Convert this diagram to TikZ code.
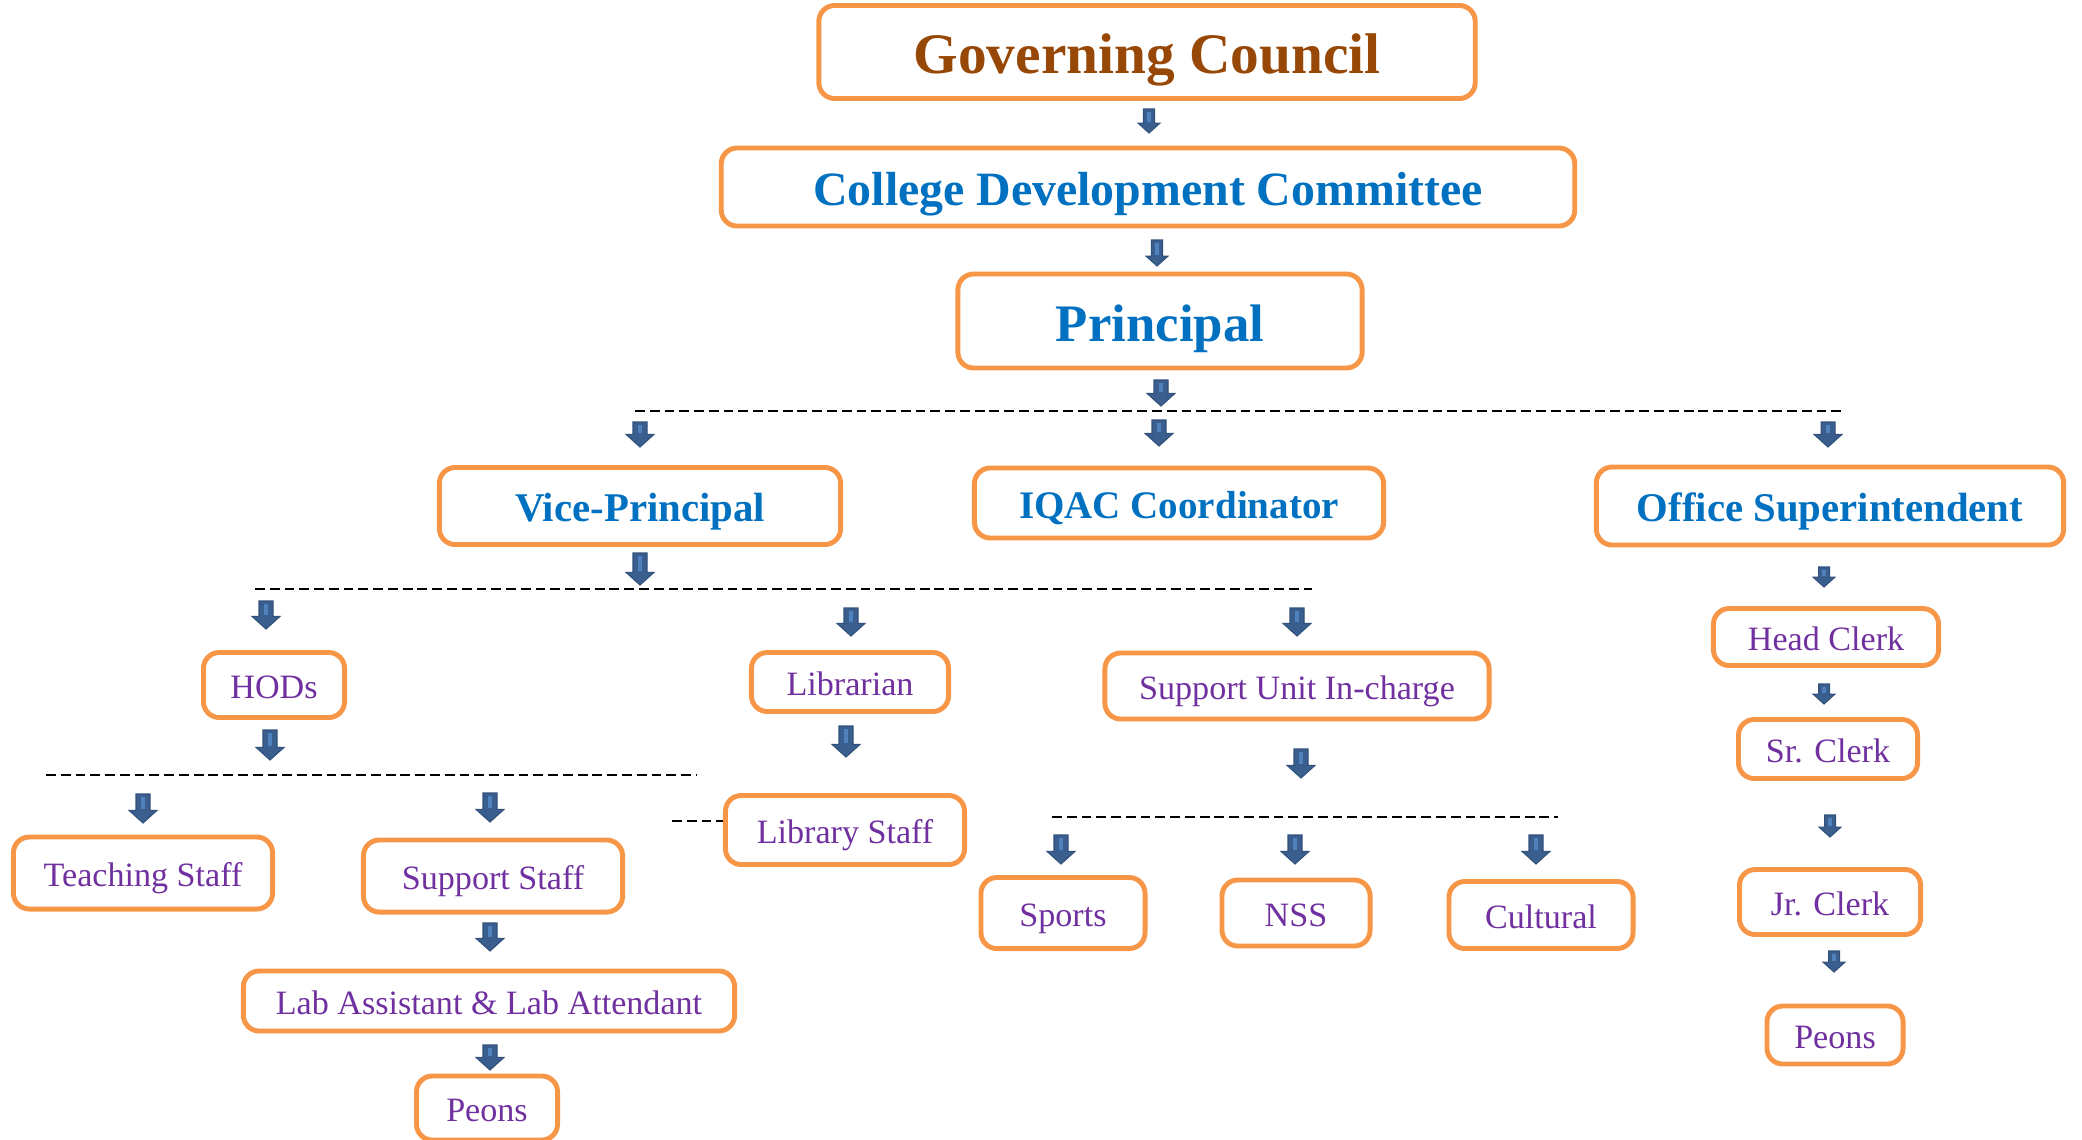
\documentclass[tikz,border=0pt]{standalone}
\usepackage{fontspec}
\setmainfont{Liberation Serif}

\definecolor{boxorange}{HTML}{F79646}
\definecolor{arrowblue}{HTML}{3A5F8F}
\definecolor{stripeblue}{HTML}{4F81BD}
\definecolor{councilbrown}{HTML}{984806}
\definecolor{headblue}{HTML}{0070C0}
\definecolor{staffpurple}{HTML}{7030A0}

\tikzset{
  box/.style={draw=boxorange, line width=1.4pt, rounded corners=4.5pt, fill=white, inner sep=0pt,
    text height=7.8pt, text depth=0pt},
  headbox/.style={box, text=headblue, font=\bfseries\fontsize{11.6}{14}\selectfont, text height=9pt},
  staffbox/.style={box, text=staffpurple, font=\fontsize{9.7}{12}\selectfont},
  dashline/.style={line width=0.75pt, dash pattern=on 2.8pt off 1.4pt},
  arrowfill/.style={fill=arrowblue, draw=arrowblue!85!black, line width=0.3pt},
  arrowstripe/.style={stripeblue, line width=1.1pt}
}

% block arrow: [head half width]{x}{top}{bottom}
\newcommand{\blkarrow}[4][14]{%
  \pgfmathsetmacro\ahw{#1}\pgfmathsetmacro\asw{#1/2}\pgfmathsetmacro\ahh{#1*0.9}
  \filldraw[arrowfill] (#2-\asw,#3) -- (#2+\asw,#3) -- (#2+\asw,#4-\ahh) -- (#2+\ahw,#4-\ahh)
    -- (#2,#4) -- (#2-\ahw,#4-\ahh) -- (#2-\asw,#4-\ahh) -- cycle;
  \draw[arrowstripe] (#2,#3+3) -- (#2,#4-\ahh-1);
}

\begin{document}
\begin{tikzpicture}[x=0.01cm,y=-0.01cm]
\useasboundingbox (0,0) rectangle (2082,1139);

\node[box, text=councilbrown, font=\bfseries\fontsize{16.3}{19}\selectfont, text height=12.3pt,
  minimum width=6.56cm, minimum height=0.93cm] (gc) at (1147,52) {Governing Council};
\node[headbox, font=\bfseries\fontsize{13.6}{16}\selectfont, text height=10.6pt,
  minimum width=8.53cm, minimum height=0.78cm] (cdc) at (1148,187) {College Development Committee};
\node[headbox, font=\bfseries\fontsize{15}{18}\selectfont, text height=11.7pt,
  minimum width=4.04cm, minimum height=0.94cm] (prin) at (1160,321) {Principal};

\node[headbox, minimum width=4.01cm, minimum height=0.77cm] (vp) at (640,506) {Vice-Principal};
\node[headbox, font=\bfseries\fontsize{11.1}{14}\selectfont, text height=8.7pt,
  minimum width=4.09cm, minimum height=0.70cm] (iqac) at (1179,503) {IQAC Coordinator};
\node[headbox, minimum width=4.67cm, minimum height=0.78cm] (os) at (1830,506) {Office Superintendent};

\node[staffbox, minimum width=1.41cm, minimum height=0.65cm] (hod) at (274,685) {HODs};
\node[staffbox, minimum width=1.97cm, minimum height=0.59cm] (lib) at (850,682) {Librarian};
\node[staffbox, minimum width=3.84cm, minimum height=0.66cm] (sui) at (1297,686) {Support Unit In-charge};
\node[staffbox, minimum width=2.25cm, minimum height=0.57cm] (hclerk) at (1826,637) {Head Clerk};

\node[staffbox, minimum width=2.59cm, minimum height=0.72cm] (tstaff) at (143,873) {Teaching Staff};
\node[staffbox, minimum width=2.59cm, minimum height=0.72cm] (sstaff) at (493,876) {Support Staff};
\node[staffbox, minimum width=2.39cm, minimum height=0.69cm] (libstaff) at (845,830) {Library Staff};
\node[staffbox, minimum width=1.64cm, minimum height=0.71cm] (sports) at (1063,913) {Sports};
\node[staffbox, minimum width=1.48cm, minimum height=0.66cm] (nss) at (1296,913) {NSS};
\node[staffbox, minimum width=1.84cm, minimum height=0.67cm] (cult) at (1541,915) {Cultural};
\node[staffbox, minimum width=1.79cm, minimum height=0.59cm] (srclerk) at (1828,749) {Sr. Clerk};
\node[staffbox, minimum width=1.81cm, minimum height=0.65cm] (jrclerk) at (1830,902) {Jr. Clerk};
\node[staffbox, minimum width=4.91cm, minimum height=0.60cm] (labasst) at (489,1001) {Lab Assistant \& Lab Attendant};
\node[staffbox, minimum width=1.41cm, minimum height=0.64cm] (peonl) at (487,1108) {Peons};
\node[staffbox, minimum width=1.36cm, minimum height=0.58cm] (peonr) at (1835,1035) {Peons};

\coordinate (l1a) at (635,411);   \coordinate (l1b) at (1843,411);
\coordinate (l2a) at (255,589);   \coordinate (l2b) at (1312,589);
\coordinate (l3a) at (46,775);    \coordinate (l3b) at (697,775);
\coordinate (l4a) at (1052,817);  \coordinate (l4b) at (1558,817);
\coordinate (lsd) at (672,821);

\draw[dashline] (l1a) -- (l1b);
\draw[dashline] (l2a) -- (l2b);
\draw[dashline] (l3a) -- (l3b);
\draw[dashline] (l4a) -- (l4b);
\draw[dashline] (lsd) -- (lsd -| libstaff.west);

\blkarrow[11]{1149}{109}{133}
\blkarrow[11]{1157}{240}{266}
\blkarrow{1161}{380}{406}
\blkarrow{640}{422}{447}
\blkarrow{1159}{420}{446}
\blkarrow{1828}{422}{447}
\blkarrow{640}{553}{585}
\blkarrow{266}{601}{629}
\blkarrow{851}{608}{636}
\blkarrow{1297}{608}{636}
\blkarrow{270}{730}{760}
\blkarrow{143}{794}{823}
\blkarrow{490}{793}{822}
\blkarrow{846}{726}{757}
\blkarrow{1301}{749}{778}
\blkarrow{1061}{835}{864}
\blkarrow{1295}{835}{864}
\blkarrow{1536}{835}{864}
\blkarrow{490}{923}{951}
\blkarrow{490}{1045}{1070}
\blkarrow[11]{1824}{567}{587}
\blkarrow[11]{1824}{684}{704}
\blkarrow[11]{1830}{815}{837}
\blkarrow[11]{1834}{951}{972}
\end{tikzpicture}
\end{document}
